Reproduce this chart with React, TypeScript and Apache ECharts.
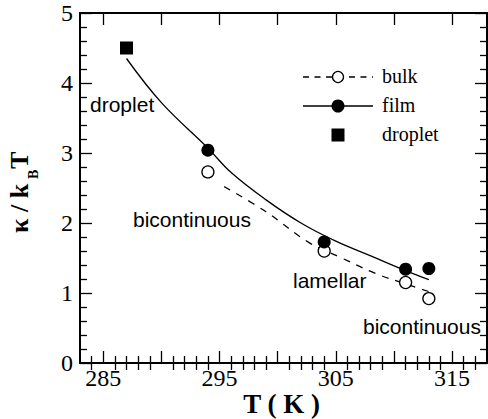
import React, { useEffect, useRef } from 'react';
import * as echarts from 'echarts';

// ---- data ----
const bulkT = [294, 304, 311, 313];
const bulkK = [2.73, 1.6, 1.15, 0.92];
const filmT = [294, 304, 311, 313];
const filmK = [3.04, 1.73, 1.34, 1.35];
const dropletT = [287];
const dropletK = [4.5];
// fitted curves
const filmFitT = [287, 290, 294, 296, 299, 302, 305, 308, 311, 313];
const filmFitK = [4.35, 3.72, 3.07, 2.72, 2.33, 2.0, 1.74, 1.53, 1.32, 1.19];
const bulkFitT = [295.4, 299, 302.7, 305.5, 308.4, 311, 313];
const bulkFitK = [2.52, 2.16, 1.72, 1.5, 1.28, 1.13, 1.02];
// ticks
const xLabelTicks = [285, 295, 305, 315];
const xMajorTicks = [285, 290, 295, 300, 305, 310, 315];
const xMinorTicks = [284, 286, 287, 288, 289, 291, 292, 293, 294, 296, 297, 298, 299, 301, 302, 303, 304, 306, 307, 308, 309, 311, 312, 313, 314, 316, 317];
const legendNames = ['bulk', 'film', 'droplet'];
const phaseLabels = ['droplet', 'bicontinuous', 'lamellar', 'bicontinuous'];

const SERIF = "'Liberation Serif', 'Times New Roman', serif";
const SANS = "'Liberation Sans', Arial, sans-serif";

const zip = (a: number[], b: number[]) => a.map((v, i) => [v, b[i]]);

export default function App() {
  const ref = useRef<HTMLDivElement>(null);
  useEffect(() => {
    if (!ref.current) return;
    const chart = echarts.init(ref.current, undefined, { renderer: 'svg' });
    const grid = { left: 80, right: 1, top: 13, bottom: 56 };
    const baseX = {
      type: 'value',
      min: 283,
      max: 318,
      splitLine: { show: false },
    };
    const tickStyle = { color: '#000', width: 1.3 };
    const xAxes = [
      {
        ...baseX,
        position: 'bottom',
        axisLine: { show: true, onZero: false, lineStyle: { color: '#000', width: 2 } },
        axisTick: { show: true, inside: true, length: 12, customValues: xMajorTicks, lineStyle: tickStyle },
        axisLabel: { show: true, customValues: xLabelTicks, margin: 3, color: '#000', fontFamily: SERIF, fontSize: 24 },
      },
      {
        ...baseX,
        position: 'bottom',
        axisLine: { show: false },
        axisTick: { show: true, inside: true, length: 7, customValues: xMinorTicks, lineStyle: tickStyle },
        axisLabel: { show: false },
      },
      {
        ...baseX,
        position: 'top',
        axisLine: { show: true, onZero: false, lineStyle: { color: '#000', width: 2 } },
        axisTick: { show: true, inside: true, length: 12, customValues: xMajorTicks, lineStyle: tickStyle },
        axisLabel: { show: false },
      },
      {
        ...baseX,
        position: 'top',
        axisLine: { show: false },
        axisTick: { show: true, inside: true, length: 7, customValues: xMinorTicks, lineStyle: tickStyle },
        axisLabel: { show: false },
      },
    ];
    const baseY = {
      type: 'value',
      min: 0,
      max: 5,
      interval: 1,
      splitLine: { show: false },
      axisLine: { show: true, onZero: false, lineStyle: { color: '#000', width: 2 } },
      axisTick: { show: true, inside: true, length: 12, lineStyle: tickStyle },
      minorTick: { show: true, splitNumber: 5, length: 7, lineStyle: tickStyle },
      minorSplitLine: { show: false },
    };
    const yAxes = [
      {
        ...baseY,
        position: 'left',
        axisLabel: { show: true, margin: 7, color: '#000', fontFamily: SERIF, fontSize: 24 },
      },
      { ...baseY, position: 'right', axisLabel: { show: false } },
    ];

    const txt = (text: string, x: number, y: number, font: string) => ({
      type: 'text',
      x,
      y,
      silent: true,
      style: { text, font, fill: '#000', align: 'left', verticalAlign: 'middle' },
    });

    const legendX = 303;
    const legendW = 70;
    const graphic: any[] = [
      // legend row: bulk
      { type: 'line', shape: { x1: legendX, y1: 77, x2: legendX + legendW, y2: 77 }, style: { stroke: '#000', lineWidth: 1.3, lineDash: [6, 5.5] } },
      { type: 'circle', shape: { cx: legendX + legendW / 2, cy: 77, r: 5.5 }, style: { fill: '#fff', stroke: '#000', lineWidth: 1.3 } },
      txt(legendNames[0], 382, 76, `20px ${SERIF}`),
      // legend row: film
      { type: 'line', shape: { x1: legendX, y1: 106, x2: legendX + legendW, y2: 106 }, style: { stroke: '#000', lineWidth: 1.3 } },
      { type: 'circle', shape: { cx: legendX + legendW / 2, cy: 106, r: 6.5 }, style: { fill: '#000' } },
      txt(legendNames[1], 382, 105, `20px ${SERIF}`),
      // legend row: droplet
      { type: 'rect', shape: { x: legendX + legendW / 2 - 6.5, y: 128.5, width: 13, height: 13 }, style: { fill: '#000' } },
      txt(legendNames[2], 382, 133.5, `20px ${SERIF}`),
      // phase annotations
      txt(phaseLabels[0], 90, 104.5, `21px ${SANS}`),
      txt(phaseLabels[1], 133, 219, `21px ${SANS}`),
      txt(phaseLabels[2], 293, 280, `21px ${SANS}`),
      txt(phaseLabels[3], 363, 326, `21px ${SANS}`),
      // x axis title
      {
        type: 'text',
        x: 281.5,
        y: 404,
        silent: true,
        style: { text: 'T ( K )', font: `bold 27px ${SERIF}`, fill: '#000', align: 'center', verticalAlign: 'middle' },
      },
      // y axis title (rotated)
      {
        type: 'group',
        x: 0,
        y: 233,
        rotation: Math.PI / 2,
        silent: true,
        children: [
          { type: 'text', x: 0, y: 19, style: { text: 'κ / k', font: `bold 26px ${SERIF}`, fill: '#000', align: 'left', verticalAlign: 'middle' } },
          { type: 'text', x: 54, y: 33, style: { text: 'B', font: `bold 14px ${SERIF}`, fill: '#000', align: 'left', verticalAlign: 'middle' } },
          { type: 'text', x: 64, y: 19, style: { text: 'T', font: `bold 26px ${SERIF}`, fill: '#000', align: 'left', verticalAlign: 'middle' } },
        ],
      },
    ];

    chart.setOption({
      animation: false,
      backgroundColor: '#fff',
      grid,
      xAxis: xAxes,
      yAxis: yAxes,
      graphic,
      series: [
        {
          name: 'film fit',
          type: 'line',
          data: zip(filmFitT, filmFitK),
          smooth: 0.4,
          showSymbol: false,
          symbol: 'none',
          lineStyle: { color: '#000', width: 1.3 },
          z: 2,
        },
        {
          name: 'bulk fit',
          type: 'line',
          data: zip(bulkFitT, bulkFitK),
          smooth: 0.4,
          showSymbol: false,
          symbol: 'none',
          lineStyle: { color: '#000', width: 1.3, type: [7, 7] },
          z: 2,
        },
        {
          name: 'bulk',
          type: 'scatter',
          data: zip(bulkT, bulkK),
          symbol: 'circle',
          symbolSize: 12,
          itemStyle: { color: '#fff', borderColor: '#000', borderWidth: 1.3, opacity: 1 },
          z: 3,
        },
        {
          name: 'film',
          type: 'scatter',
          data: zip(filmT, filmK),
          symbol: 'circle',
          symbolSize: 13,
          itemStyle: { color: '#000', opacity: 1 },
          z: 4,
        },
        {
          name: 'droplet',
          type: 'scatter',
          data: zip(dropletT, dropletK),
          symbol: 'rect',
          symbolSize: 13,
          itemStyle: { color: '#000', opacity: 1 },
          z: 4,
        },
      ],
    });
    return () => chart.dispose();
  }, []);
  return <div ref={ref} style={{ position: 'fixed', left: 0, top: 0, width: 488, height: 419 }} />;
}
